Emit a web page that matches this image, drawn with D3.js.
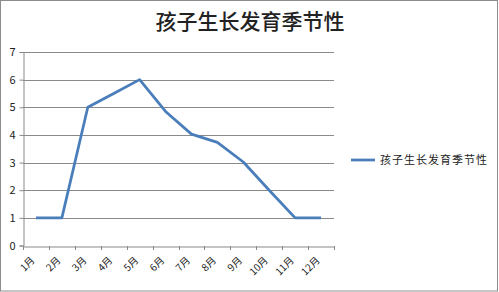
<!DOCTYPE html>
<html>
<head>
  <meta charset="utf-8">
  <title>孩子生长发育季节性</title>
  <script src="https://cdn.jsdelivr.net/npm/d3@7"></script>
  <style>
    body { margin: 0; background: #fff; }
    text { font-family: "Noto Sans CJK SC", "Noto Sans", sans-serif; fill: #222; }
  </style>
</head>
<body>
  <div id="chart"></div>
  <script>

  var months = ['1月','2月','3月','4月','5月','6月','7月','8月','9月','10月','11月','12月'];
  var values = [1, 1, 5, 5.5, 6, 4.85, 4.03, 3.73, 3.02, 2, 1, 1];
  var yTicks = [0, 1, 2, 3, 4, 5, 6, 7];
  var title = '孩子生长发育季节性';
  var seriesName = '孩子生长发育季节性';

  var width = 499, height = 292;
  var plotLeft = 23, plotRight = 334, plotTop = 52, plotBottom = 245.5;

  var svg = d3.select('#chart')
              .append('svg')
              .attr('width', width)
              .attr('height', height);

  // outer frame
  svg.append('rect')
     .attr('x', 0.5).attr('y', 0.5)
     .attr('width', 497).attr('height', 290.5)
     .attr('fill', 'none')
     .attr('stroke', '#8c8c8c');

  var x = d3.scaleBand().domain(months).range([plotLeft, plotRight]);
  var y = d3.scaleLinear().domain([0, 7]).range([plotBottom, plotTop]);

  // gridlines
  svg.append('g')
     .selectAll('line')
     .data(yTicks.filter(function(d){ return d > 0; }))
     .join('line')
     .attr('x1', plotLeft).attr('x2', plotRight)
     .attr('y1', function(d){ return Math.round(y(d)) + 0.5; })
     .attr('y2', function(d){ return Math.round(y(d)) + 0.5; })
     .attr('stroke', '#8a8a8a');

  // y axis
  var yAxis = svg.append('g')
     .attr('transform', 'translate(' + (plotLeft + 0.5) + ',0)')
     .call(d3.axisLeft(y).tickValues(yTicks).tickSize(4).tickPadding(4).tickFormat(d3.format('d')));
  yAxis.select('.domain').attr('stroke', '#8a8a8a');
  yAxis.selectAll('.tick line').attr('stroke', '#8a8a8a');
  yAxis.selectAll('.tick text').attr('font-size', 11).attr('fill', '#222');

  // x axis
  var xAxis = svg.append('g')
     .attr('transform', 'translate(0,' + (Math.round(plotBottom) + 0.5) + ')')
     .call(d3.axisBottom(x).tickSize(0).tickFormat(''));
  xAxis.select('.domain').attr('stroke', '#8a8a8a');

  // category tick marks on band edges
  var edges = months.map(function(m){ return x(m); }).concat([plotRight]);
  svg.append('g')
     .selectAll('line')
     .data(edges)
     .join('line')
     .attr('x1', function(d){ return Math.round(d) + 0.5; })
     .attr('x2', function(d){ return Math.round(d) + 0.5; })
     .attr('y1', Math.round(plotBottom)).attr('y2', Math.round(plotBottom) + 4)
     .attr('stroke', '#8a8a8a');

  svg.append('g')
     .selectAll('text')
     .data(months)
     .join('text')
     .attr('transform', function(d){
       var cx = x(d) + x.bandwidth() / 2 - 3;
       return 'translate(' + cx + ',' + (plotBottom + 13) + ') rotate(-45)';
     })
     .attr('text-anchor', 'end')
     .attr('dy', '0.35em')
     .attr('font-size', 10)
     .text(function(d){ return d; });

  // series line
  var line = d3.line()
     .x(function(d, i){ return x(months[i]) + x.bandwidth() / 2; })
     .y(function(d){ return y(d); });

  svg.append('path')
     .datum(values)
     .attr('d', line)
     .attr('fill', 'none')
     .attr('stroke', '#4a7ebb')
     .attr('stroke-width', 2.75)
     .attr('stroke-linejoin', 'round');

  // title
  svg.append('text')
     .attr('x', 250).attr('y', 29)
     .attr('text-anchor', 'middle')
     .attr('font-size', 21)
     .attr('font-weight', 500)
     .attr('fill', '#111')
     .text(title);

  // legend
  svg.append('line')
     .attr('x1', 351).attr('x2', 375)
     .attr('y1', 160).attr('y2', 160)
     .attr('stroke', '#4a7ebb')
     .attr('stroke-width', 2.75);

  svg.append('text')
     .attr('x', 380).attr('y', 160)
     .attr('dy', '0.35em')
     .attr('font-size', 11)
     .attr('letter-spacing', 1)
     .text(seriesName);

  </script>
</body>
</html>
